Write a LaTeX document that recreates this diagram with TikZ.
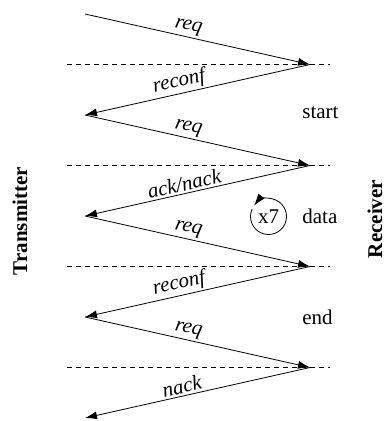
\documentclass[tikz,border=0pt]{standalone}
\usepackage{fontspec}
\setmainfont{Liberation Serif}
\usetikzlibrary{arrows.meta}

\begin{document}
\begin{tikzpicture}[>={Latex[length=6pt,width=4pt]}, x=0.5pt, y=-0.5pt,
    font=\fontsize{10.5}{12}\selectfont,
    msg/.style={midway, above, sloped, inner sep=1pt, font=\fontsize{10.5}{12}\selectfont\itshape}]

    \useasboundingbox (0,0) rectangle (384,421);

    % 1. End points (transmitter left, receiver right)
    \foreach \i/\y in {0/14, 1/115, 2/216, 3/317, 4/418} {
        \coordinate (t\i) at (85,\y);
    }
    \foreach \i/\y in {1/64.5, 2/165.5, 3/266.5, 4/367.5} {
        \coordinate (r\i) at (310,\y);
    }

    % 2. Phase borders
    \foreach \i in {1,...,4} {
        \draw[dash pattern=on 2.5pt off 2pt] ([xshift=-121.5pt]r\i) -- ([xshift=10pt]r\i);
    }

    % 3. Messages
    \draw[->] (t0) -- (r1) node[msg, pos=0.45] (m1) {req};
    \draw[->] (r1) -- (t1) node[msg, pos=0.57] (m2) {reconf};
    \draw[->] (t1) -- (r2) node[msg, pos=0.45] (m3) {req};
    \draw[->] (r2) -- (t2) node[msg, pos=0.55] (m4) {ack/nack};
    \draw[->] (t2) -- (r3) node[msg, pos=0.45] (m5) {req};
    \draw[->] (r3) -- (t3) node[msg, pos=0.57] (m6) {reconf};
    \draw[->] (t3) -- (r4) node[msg, pos=0.45] (m7) {req};
    \draw[->] (r4) -- (t4) node[msg, pos=0.56] (m8) {nack};

    % 4. Phases
    \node[anchor=west, inner sep=0pt] (phstart) at (302,113) {start};
    \node[anchor=west, inner sep=0pt] (phdata) at (302,216) {data};
    \node[anchor=west, inner sep=0pt] (phend) at (302,317) {end};

    % Repetition of the data phase
    \node (loop) at (268.5,216.5) {x7};
    \draw[->] ([shift={(155:9pt)}]loop.center) arc[start angle=155, end angle=503, radius=9pt];

    % 5. Sides
    \node[rotate=90, anchor=base, font=\fontsize{10.5}{12}\selectfont\bfseries] (tx) at (27,221) {Transmitter};
    \node[rotate=90, anchor=base, inner sep=0pt, font=\fontsize{10.5}{12}\selectfont\bfseries] (rx) at (382,219) {Receiver};

\end{tikzpicture}
\end{document}
